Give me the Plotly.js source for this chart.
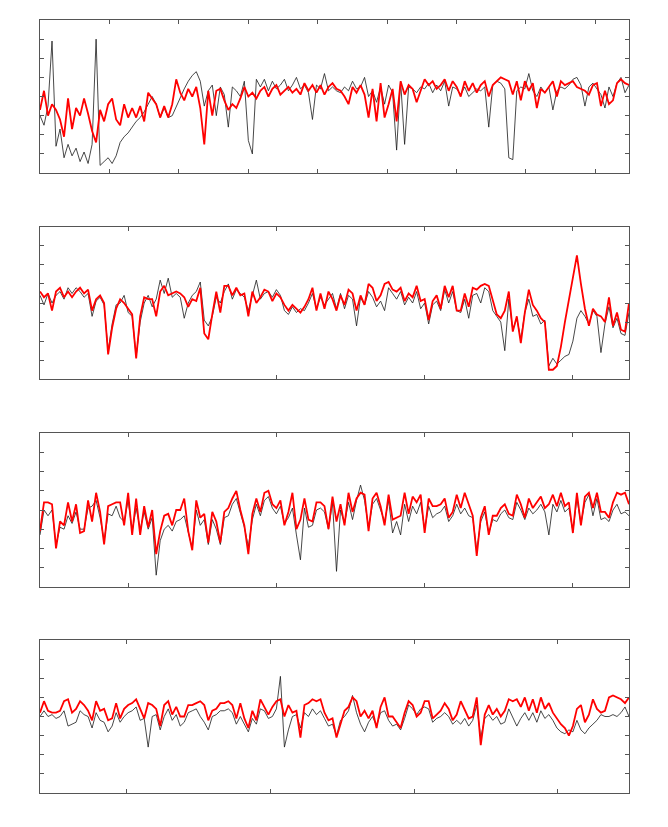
<!DOCTYPE html>
<html>
<head>
<meta charset="utf-8">
<script src="https://cdn.plot.ly/plotly-3.0.1.min.js"></script>
<style>
    html, body { margin: 0; padding: 0; background: #fff; }
    #chart { width: 668px; height: 827px; }
</style>
</head>
<body>
<div id="chart"></div>
<script>
// sample spacing along x (one value every STEP units)
const STEP = 4;

// panel 1
const p1Black = [
    3.0, 2.5, 3.5, 6.9, 1.4, 2.3, 0.8, 1.5, 0.9, 1.3,
    0.6, 1.1, 0.5, 1.5, 7.0, 0.4, 0.6, 0.8, 0.5, 0.9,
    1.6, 1.9, 2.1, 2.4, 2.7, 2.9, 3.2, 3.6, 4.0, 3.6,
    2.9, 3.4, 2.9, 3.0, 3.5, 4.0, 4.4, 4.8, 5.1, 5.3,
    4.8, 3.5, 4.3, 4.6, 3.0, 4.5, 4.1, 2.4, 4.5, 4.3,
    4.0, 4.8, 1.7, 1.0, 4.9, 4.5, 4.9, 4.3, 4.8, 4.4,
    4.6, 4.9, 4.3, 4.6, 5.0, 4.4, 4.6, 4.2, 2.8, 4.6,
    4.4, 5.2, 4.3, 4.5, 4.3, 4.2, 4.5, 4.3, 4.8, 4.4,
    4.5, 5.0, 4.0, 4.3, 3.7, 4.5, 3.6, 4.6, 4.2, 1.2,
    4.8, 1.5, 4.5, 4.4, 4.2, 4.5, 4.4, 4.7, 4.2, 4.6,
    4.3, 4.8, 3.5, 4.5, 4.4, 4.1, 4.5, 4.0, 4.2, 4.4,
    4.3, 4.5, 2.4, 4.6, 4.8, 4.7, 4.4, 0.8, 0.7, 4.3,
    4.5, 4.4, 5.2, 4.3, 4.0, 4.5, 4.2, 4.5, 3.3, 4.3,
    4.5, 4.4, 4.6, 4.9, 5.0, 4.6, 3.5, 4.5, 4.7, 4.4,
    4.1, 3.4, 4.5, 4.0, 4.7, 5.0, 4.2, 4.6
];
const p1Red = [
    3.3, 4.3, 3.0, 3.6, 3.3, 2.8, 1.9, 3.9, 2.3, 3.4,
    3.0, 3.9, 3.1, 2.2, 1.6, 3.3, 2.7, 3.6, 3.9, 2.8,
    2.5, 3.6, 2.9, 3.4, 2.9, 3.5, 2.7, 4.2, 3.9, 3.6,
    2.9, 3.5, 2.9, 3.6, 4.9, 4.2, 3.8, 4.4, 4.0, 4.5,
    3.4, 1.5, 4.3, 3.0, 4.3, 4.4, 3.8, 3.3, 3.6, 3.4,
    3.9, 4.5, 4.0, 4.2, 3.9, 4.3, 4.5, 4.0, 4.4, 4.6,
    4.1, 4.3, 4.5, 4.2, 4.4, 4.1, 4.7, 4.3, 4.6, 4.2,
    4.6, 4.1, 4.5, 4.7, 4.4, 4.3, 4.0, 3.6, 4.5, 4.2,
    4.6, 4.1, 2.9, 4.4, 2.7, 4.7, 2.9, 3.6, 4.4, 2.7,
    4.8, 4.1, 4.6, 4.4, 3.7, 4.3, 4.9, 4.6, 4.8, 4.4,
    4.6, 4.9, 4.3, 4.8, 4.5, 4.0, 4.8, 4.3, 4.7, 4.2,
    4.6, 4.8, 4.0, 4.6, 4.8, 5.0, 4.9, 4.8, 4.1, 4.8,
    3.8, 4.8, 4.3, 4.7, 3.4, 4.4, 4.2, 4.5, 4.8, 4.0,
    4.8, 4.6, 4.7, 4.8, 4.5, 4.4, 4.3, 4.1, 4.6, 4.7,
    3.5, 4.3, 3.6, 3.8, 4.7, 4.9, 4.7, 4.6
];

// panel 2
const p2Black = [
    4.4, 3.9, 4.5, 4.0, 4.4, 4.6, 4.2, 4.8, 4.5, 4.8,
    4.6, 4.3, 4.5, 3.3, 4.1, 4.3, 3.9, 1.5, 2.9, 3.9,
    4.0, 4.4, 3.5, 3.3, 1.2, 3.0, 4.0, 4.4, 3.8, 4.2,
    5.2, 4.5, 5.3, 4.3, 4.5, 4.3, 3.2, 4.0, 4.4, 4.6,
    5.1, 3.1, 2.8, 3.3, 4.3, 4.0, 4.6, 5.0, 4.2, 4.7,
    4.5, 4.3, 3.6, 4.4, 5.2, 4.2, 4.5, 4.6, 4.3, 4.7,
    4.4, 3.6, 3.4, 3.8, 3.5, 3.7, 3.6, 4.0, 4.5, 3.7,
    4.3, 3.9, 4.2, 4.5, 3.7, 4.5, 3.7, 4.4, 4.2, 2.8,
    4.3, 3.9, 4.6, 4.3, 3.8, 4.1, 3.6, 4.8, 4.5, 4.2,
    4.6, 3.9, 4.3, 4.0, 4.6, 3.7, 4.0, 2.9, 3.9, 4.1,
    3.6, 4.7, 4.0, 4.6, 3.6, 3.5, 4.2, 3.2, 4.4, 4.5,
    4.0, 4.8, 4.6, 3.6, 3.3, 3.0, 1.5, 4.2, 2.6, 3.2,
    2.1, 3.5, 4.2, 3.3, 3.4, 2.9, 3.1, 0.7, 1.1, 0.8,
    1.0, 1.2, 1.3, 2.0, 3.2, 3.6, 3.3, 2.9, 3.6, 3.3,
    1.4, 2.9, 3.8, 2.7, 3.2, 2.4, 2.3, 3.5
];
const p2Red = [
    4.6, 4.3, 4.5, 3.6, 4.6, 4.8, 4.3, 4.6, 4.3, 4.6,
    4.8, 4.5, 4.7, 3.6, 4.2, 4.4, 4.0, 1.3, 2.7, 3.7,
    4.2, 4.0, 3.7, 3.4, 1.1, 3.3, 4.3, 4.2, 4.2, 3.3,
    4.6, 4.9, 4.4, 4.5, 4.6, 4.5, 4.3, 3.8, 4.2, 4.1,
    4.8, 2.4, 2.1, 3.4, 4.6, 3.5, 4.9, 4.9, 4.4, 4.8,
    4.4, 4.5, 3.3, 4.6, 4.0, 4.3, 4.7, 4.6, 4.1, 4.5,
    4.3, 3.9, 3.6, 3.9, 3.7, 3.5, 3.8, 4.2, 4.8, 3.6,
    4.5, 3.7, 4.6, 4.2, 3.6, 4.4, 3.9, 4.7, 4.5, 3.6,
    4.4, 3.9, 5.0, 4.8, 4.1, 4.4, 5.0, 5.1, 4.7, 4.6,
    4.8, 4.1, 4.5, 4.3, 4.9, 4.1, 4.2, 3.1, 4.1, 4.4,
    3.7, 4.9, 4.3, 4.9, 3.6, 3.6, 4.5, 3.8, 4.8, 4.7,
    4.9, 5.0, 4.9, 4.2, 3.4, 3.2, 3.6, 4.6, 2.5, 3.3,
    1.9, 3.5, 4.7, 3.9, 3.6, 3.2, 3.0, 0.5, 0.5, 0.7,
    1.7, 3.0, 4.2, 5.5, 6.5, 5.0, 3.7, 2.8, 3.7, 3.4,
    3.3, 3.0, 4.3, 2.8, 3.5, 2.6, 2.5, 4.0
];

// panel 3
const p3Black = [
    2.7, 4.0, 3.7, 4.0, 2.2, 3.1, 3.0, 3.7, 3.3, 3.9,
    3.0, 3.0, 4.1, 4.2, 4.5, 3.6, 2.4, 3.8, 3.7, 4.2,
    3.6, 3.4, 4.5, 2.9, 4.1, 3.0, 3.9, 3.0, 3.6, 0.6,
    2.4, 3.0, 3.2, 2.9, 3.4, 3.5, 3.7, 2.9, 2.0, 4.0,
    3.2, 3.5, 2.2, 3.5, 3.0, 2.2, 3.6, 3.7, 4.3, 4.6,
    3.9, 3.1, 2.1, 3.5, 4.3, 3.7, 4.5, 4.7, 4.1, 3.8,
    4.2, 3.3, 3.6, 4.1, 2.7, 1.4, 4.1, 3.1, 3.2, 4.0,
    4.1, 3.9, 3.0, 4.4, 0.8, 4.0, 3.3, 4.4, 3.5, 4.5,
    5.3, 4.5, 3.1, 4.3, 4.6, 4.0, 3.4, 4.5, 2.8, 3.4,
    2.7, 4.3, 3.4, 4.2, 3.8, 4.4, 3.0, 4.2, 3.6, 3.8,
    3.9, 4.2, 3.4, 3.7, 4.3, 3.8, 4.1, 3.7, 3.6, 1.9,
    3.4, 3.9, 2.8, 3.5, 3.4, 3.8, 4.0, 3.6, 3.5, 4.4,
    4.0, 3.5, 4.1, 3.8, 4.0, 4.3, 3.9, 2.7, 4.3, 3.9,
    4.5, 3.9, 4.1, 2.9, 4.6, 3.3, 4.4, 4.8, 3.7, 4.6,
    3.5, 3.6, 3.4, 4.0, 4.3, 3.8, 3.9, 3.7
];
const p3Red = [
    2.9, 4.4, 4.4, 4.3, 2.0, 3.4, 3.2, 4.4, 3.4, 4.3,
    2.8, 2.9, 4.5, 3.4, 4.9, 3.9, 2.2, 4.2, 4.3, 4.4,
    4.4, 3.2, 4.9, 2.7, 4.6, 2.7, 4.2, 3.1, 4.0, 1.7,
    2.9, 3.7, 3.8, 3.2, 4.0, 4.0, 4.6, 2.9, 1.9, 4.5,
    3.6, 3.8, 2.3, 3.9, 3.4, 2.3, 3.9, 4.1, 4.6, 5.0,
    4.0, 3.2, 1.7, 3.8, 4.6, 3.9, 4.9, 5.0, 4.3, 4.1,
    4.5, 3.2, 3.9, 4.9, 3.0, 3.5, 4.6, 3.5, 3.4, 4.4,
    4.4, 4.2, 3.0, 4.7, 3.4, 4.3, 3.2, 4.9, 3.9, 4.6,
    4.9, 4.8, 2.9, 4.6, 4.9, 4.2, 3.2, 4.8, 3.5, 3.6,
    3.7, 4.9, 3.8, 4.7, 4.4, 4.8, 2.8, 4.6, 4.2, 4.2,
    4.3, 4.6, 3.6, 3.9, 4.8, 4.1, 4.9, 4.3, 3.7, 1.6,
    3.6, 4.2, 2.7, 3.7, 3.7, 4.1, 4.3, 3.8, 3.7, 4.8,
    4.3, 3.6, 4.6, 4.1, 4.4, 4.7, 4.1, 4.3, 4.8, 4.2,
    4.9, 4.2, 4.4, 2.8, 4.9, 3.2, 4.7, 4.9, 4.1, 4.9,
    3.9, 3.9, 3.6, 4.4, 4.9, 4.8, 4.9, 4.3
];

// panel 4
const p4Black = [
    4.0, 4.3, 4.0, 4.1, 3.9, 4.0, 4.3, 3.5, 3.6, 3.7,
    4.3, 4.1, 4.0, 3.4, 4.2, 3.8, 3.7, 3.2, 3.5, 4.2,
    3.7, 4.0, 4.2, 4.3, 4.5, 3.8, 3.9, 2.4, 4.0, 4.1,
    3.3, 4.0, 4.4, 3.8, 4.1, 3.5, 3.7, 4.2, 4.3, 4.4,
    4.0, 3.7, 3.3, 4.0, 4.1, 4.3, 4.3, 4.4, 4.2, 3.6,
    4.0, 3.6, 3.2, 3.9, 3.6, 4.4, 4.3, 3.9, 4.0, 4.4,
    6.1, 2.4, 3.3, 4.0, 4.1, 3.4, 4.2, 4.0, 4.4, 4.1,
    4.3, 3.9, 3.5, 3.6, 3.0, 3.8, 4.0, 4.3, 5.1, 4.2,
    3.6, 3.2, 3.7, 4.0, 3.5, 4.2, 4.3, 3.8, 3.5, 3.6,
    3.3, 3.9, 4.6, 4.4, 4.1, 4.4, 4.5, 4.4, 3.7, 3.9,
    4.0, 4.2, 4.0, 3.6, 3.8, 3.6, 3.9, 3.5, 3.8, 4.6,
    2.9, 3.9, 4.1, 3.8, 4.0, 3.6, 3.7, 4.4, 3.9, 3.5,
    3.9, 4.2, 3.8, 4.2, 3.7, 4.3, 3.9, 4.1, 3.8, 3.4,
    3.2, 3.1, 3.3, 3.2, 3.8, 3.3, 3.1, 3.4, 3.6, 3.8,
    4.1, 4.0, 4.0, 4.1, 4.0, 4.2, 4.5, 4.0
];
const p4Red = [
    4.2, 4.8, 4.3, 4.2, 4.2, 4.3, 4.8, 4.9, 4.2, 4.4,
    4.8, 4.6, 4.3, 3.8, 4.8, 4.3, 4.4, 3.8, 3.9, 4.7,
    3.9, 4.4, 4.6, 4.7, 4.9, 4.4, 3.9, 4.7, 4.6, 4.4,
    3.5, 4.6, 4.8, 4.1, 4.5, 4.0, 4.0, 4.6, 4.6, 4.7,
    4.8, 4.6, 3.8, 4.3, 4.4, 4.7, 4.7, 4.8, 4.6, 3.9,
    4.7, 3.9, 3.4, 4.3, 3.8, 4.9, 4.5, 4.1, 4.5, 4.8,
    4.9, 4.0, 4.6, 4.2, 4.3, 2.9, 4.6, 4.7, 4.9, 4.8,
    4.9, 4.2, 3.8, 3.9, 2.9, 3.6, 4.3, 4.5, 5.0, 4.8,
    4.0, 4.3, 3.9, 4.3, 3.4, 4.5, 5.0, 4.0, 4.0, 3.7,
    3.4, 4.2, 4.8, 4.6, 4.0, 4.2, 4.8, 4.8, 3.9, 4.1,
    4.3, 4.7, 4.4, 3.8, 4.1, 4.8, 4.3, 3.9, 4.0, 5.0,
    2.5, 4.1, 4.6, 4.1, 4.4, 4.0, 4.3, 4.9, 4.8, 4.9,
    4.5, 5.0, 4.3, 4.9, 4.2, 5.0, 4.4, 4.7, 4.2, 3.9,
    3.6, 3.4, 3.0, 3.5, 4.4, 4.6, 3.7, 4.1, 4.9, 4.4,
    4.2, 4.3, 5.0, 5.1, 5.0, 4.9, 4.7, 5.0
];

document.addEventListener('DOMContentLoaded', () => {
    drawChart();
});

function sampleX(values) {
    return values.map((v, i) => i * STEP);
}

function drawChart() {
    // 上から順に4つのパネル
    const panels = [
        { black: p1Black, red: p1Red, domain: [0.802, 1.0], tick0: 0, dtick: 69.3 },
        { black: p2Black, red: p2Red, domain: [0.5352, 0.7326], tick0: 88, dtick: 147.7 },
        { black: p3Black, red: p3Red, domain: [0.2669, 0.4653], tick0: 88, dtick: 147.7 },
        { black: p4Black, red: p4Red, domain: [0.0, 0.1979], tick0: 86, dtick: 143.7 }
    ];

    const data = [];
    const layout = {
        width: 668,
        height: 827,
        margin: { l: 40, r: 39, t: 20, b: 34 },
        paper_bgcolor: '#fff',
        plot_bgcolor: '#fff',
        showlegend: false
    };

    panels.forEach((panel, index) => {
        const n = index + 1;
        const xName = n === 1 ? 'x' : 'x' + n;
        const yName = n === 1 ? 'y' : 'y' + n;

        data.push({
            x: sampleX(panel.black),
            y: panel.black,
            xaxis: xName,
            yaxis: yName,
            type: 'scatter',
            mode: 'lines',
            line: { color: '#1a1a1a', width: 0.8 },
            hoverinfo: 'skip'
        });
        data.push({
            x: sampleX(panel.red),
            y: panel.red,
            xaxis: xName,
            yaxis: yName,
            type: 'scatter',
            mode: 'lines',
            line: { color: '#ff0000', width: 1.8 },
            hoverinfo: 'skip'
        });

        const axisStyle = {
            showline: true,
            linecolor: '#555',
            linewidth: 1,
            mirror: 'ticks',
            ticks: 'inside',
            ticklen: 4,
            tickcolor: '#555',
            showticklabels: false,
            showgrid: false,
            zeroline: false
        };

        layout[n === 1 ? 'xaxis' : 'xaxis' + n] = Object.assign({}, axisStyle, {
            anchor: yName,
            domain: [0, 1],
            range: [0, 588],
            tickmode: 'linear',
            tick0: panel.tick0,
            dtick: panel.dtick
        });
        layout[n === 1 ? 'yaxis' : 'yaxis' + n] = Object.assign({}, axisStyle, {
            anchor: xName,
            domain: panel.domain,
            range: [0, 8],
            tickmode: 'linear',
            tick0: 0,
            dtick: 1
        });
    });

    Plotly.newPlot('chart', data, layout, { staticPlot: true });
}
</script>
</body>
</html>
